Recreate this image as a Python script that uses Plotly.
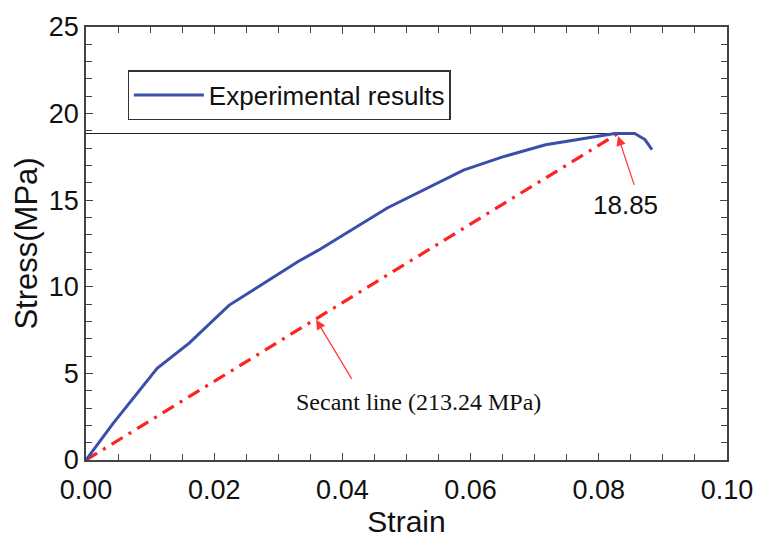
import plotly.graph_objects as go

strain = [0, 0.0042, 0.0111, 0.0161, 0.0223, 0.030, 0.0331, 0.0362, 0.047, 0.0589,
          0.065, 0.0717, 0.078, 0.0825, 0.0856, 0.0872, 0.0883]
stress = [0, 2.1, 5.3, 6.75, 8.93, 10.7, 11.46, 12.1, 14.55, 16.74,
          17.5, 18.2, 18.6, 18.85, 18.85, 18.5, 17.92]

peak_strain = 0.083
peak_stress = 18.85
secant_x = [0, peak_strain]
secant_y = [0, peak_stress]

FONT = "Arial, Liberation Sans"

fig = go.Figure()
fig.add_trace(go.Scatter(x=[0, peak_strain], y=[peak_stress, peak_stress], mode="lines",
                         line=dict(color="#222222", width=1.2), showlegend=False, hoverinfo="skip"))
fig.add_trace(go.Scatter(x=secant_x, y=secant_y, mode="lines",
                         line=dict(color="#ff2222", width=3.2, dash="13px,7px,3px,7px"),
                         showlegend=False))
fig.add_trace(go.Scatter(x=strain, y=stress, mode="lines", name="Experimental results",
                         line=dict(color="#3a4fa8", width=3)))

axis_common = dict(showline=True, linecolor="#444444", linewidth=1.5, mirror="ticks",
                   ticks="inside", ticklen=7, tickwidth=1.3, tickcolor="#444444",
                   showgrid=False, zeroline=False,
                   tickfont=dict(family=FONT, size=27, color="#111111"),
                   minor=dict(ticks="inside", ticklen=6, tickwidth=1.2, tickcolor="#444444", showgrid=False))

fig.update_xaxes(range=[0, 0.1], dtick=0.02, tickformat=".2f", ticklabelstandoff=5,
                 title=dict(text="Strain", font=dict(family=FONT, size=30, color="#111111"),
                            standoff=0),
                 **axis_common)
fig.update_yaxes(range=[0, 25], dtick=5,
                 title=dict(text="Stress(MPa)", font=dict(family=FONT, size=31, color="#111111"),
                            standoff=2),
                 **axis_common)

fig.add_annotation(x=0.083, y=18.7, ax=0.0856, ay=15.8, xref="x", yref="y", axref="x", ayref="y",
                   text="", showarrow=True, arrowhead=2, arrowsize=1.6, arrowwidth=1.2,
                   arrowcolor="#ff3333", standoff=0, startstandoff=0)
fig.add_annotation(x=0.0841, y=14.7, xref="x", yref="y", text="18.85", showarrow=False,
                   font=dict(family=FONT, size=26, color="#111111"))
fig.add_annotation(x=0.0359, y=8.1, ax=0.0416, ay=4.6, xref="x", yref="y", axref="x", ayref="y",
                   text="", showarrow=True, arrowhead=2, arrowsize=1.6, arrowwidth=1.2,
                   arrowcolor="#ff3333", standoff=0, startstandoff=0)
fig.add_annotation(x=0.0518, y=3.37, xref="x", yref="y", text="Secant line (213.24 MPa)", showarrow=False,
                   font=dict(family="Liberation Serif, Times New Roman", size=24, color="#111111"))

fig.update_layout(
    width=765, height=538,
    margin=dict(l=86, r=32, t=20, b=73),
    paper_bgcolor="white", plot_bgcolor="white",
    showlegend=True,
    legend=dict(x=0.065, y=0.9, xanchor="left", yanchor="top",
                bordercolor="#333333", borderwidth=1.2, bgcolor="white",
                font=dict(family=FONT, size=26, color="#111111"),
                itemwidth=70, tracegroupgap=0),
)

fig.write_html("out.html")
